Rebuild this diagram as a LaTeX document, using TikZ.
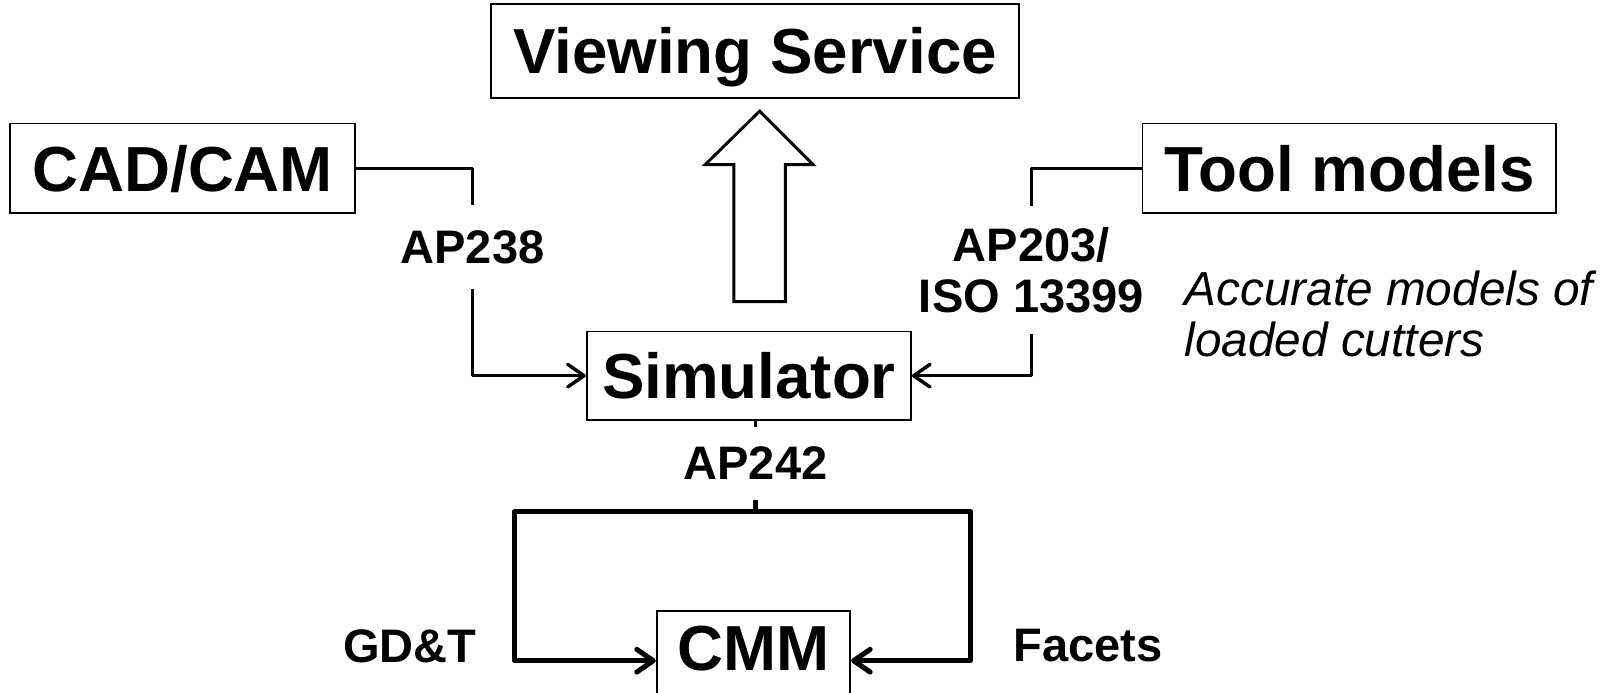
\documentclass[tikz,border=0pt]{standalone}
\usepackage{fontspec}
\setmainfont{Liberation Sans}
\usetikzlibrary{arrows.meta}
\usetikzlibrary{positioning}

\tikzset{
  bigbox/.style={draw, line width=0.5pt, font=\fontsize{17.6}{20}\selectfont\bfseries, text height=12.6pt, text depth=0pt, inner sep=0pt},
  smalllabel/.style={font=\fontsize{13}{14.1}\selectfont\bfseries, inner xsep=0.05cm, inner ysep=0.24cm, align=center},
  link/.style={line width=0.95pt, line join=round},
  thicklink/.style={line width=1.4pt, line join=round},
}

\begin{document}
\begin{tikzpicture}[>={Straight Barb[length=1.6mm,width=2.2mm,round]}]
\useasboundingbox (0,0) rectangle (15.68,-6.73);

\node[bigbox, minimum width=5.13cm, minimum height=0.91cm] (view) at (7.335,-0.495) {Viewing Service};
\node[bigbox, minimum width=3.35cm, minimum height=0.87cm] (cad) at (1.775,-1.635) {CAD/CAM};
\node[bigbox, minimum width=4.02cm, minimum height=0.87cm] (tool) at (13.11,-1.635) {Tool models};
\node[bigbox, minimum width=3.15cm, minimum height=0.86cm] (sim) at (7.275,-3.65) {Simulator};
\node[bigbox, minimum width=1.88cm, text depth=0.35cm, inner ysep=0.13cm, anchor=north] (cmm) at (7.32,-5.93) {CMM};

\node[smalllabel] (ap238) at (4.59,-2.40) {AP238};
\node[smalllabel, inner ysep=0.2cm] (ap203) at (10.02,-2.625) {AP203/\\ISO 13399};
\node[smalllabel, inner ysep=0.19cm] (ap242) at (7.34,-4.50) {AP242};
\node[smalllabel] (gdt) at (3.98,-6.28) {GD\&T};
\node[smalllabel] (facets) at (10.57,-6.27) {Facets};
\node[font=\fontsize{13.2}{14.2}\selectfont\itshape, align=left, anchor=west, inner sep=0pt] (note) at (11.50,-3.05) {Accurate models of\\loaded cutters};

% hollow arrow up to the viewer
\draw[line width=0.8pt] (7.13,-2.93) -- (7.13,-1.60) -- (6.85,-1.60) -- (7.38,-1.08) -- (7.90,-1.60) -- (7.63,-1.60) -- (7.63,-2.93) -- cycle;

\draw[link] (cad.east) -| (ap238.north);
\draw[link,->] (ap238.south) |- (sim.west);
\draw[link] (tool.west) -| (ap203.north);
\draw[link,->] (ap203.south) |- (sim.east);
\draw[link] (ap242.north |- sim.south) -- (ap242.north);

\coordinate (gl) at (5.00,-4.97);
\coordinate (gr) at (9.43,-4.97);
\draw[thicklink,->] (ap242.south) |- (gl) |- (cmm.mid west);
\draw[thicklink,->] (ap242.south) |- (gr) |- (cmm.mid east);

\end{tikzpicture}
\end{document}
